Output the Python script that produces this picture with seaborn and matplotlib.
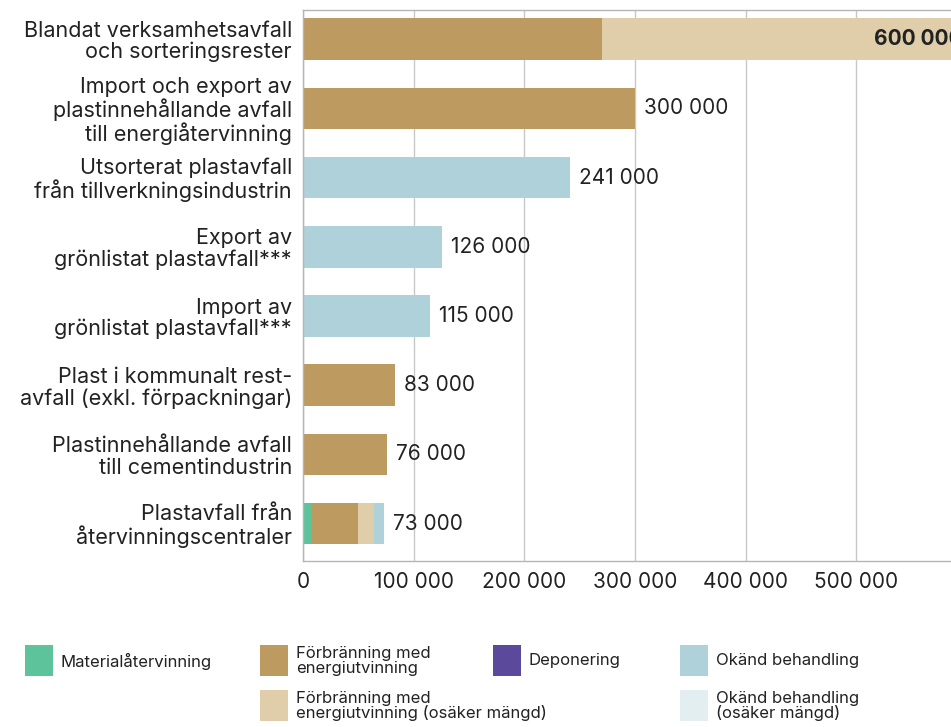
import matplotlib
matplotlib.use("Agg")
import matplotlib.pyplot as plt
from matplotlib.patches import Rectangle
import numpy as np
import pandas as pd
import seaborn as sns

# === data ===
CATEGORIES = [
    "Blandat verksamhetsavfall\noch sorteringsrester",
    "Import och export av\nplastinnehållande avfall\ntill energiåtervinning",
    "Utsorterat plastavfall\nfrån tillverkningsindustrin",
    "Export av\ngrönlistat plastavfall***",
    "Import av\ngrönlistat plastavfall***",
    "Plast i kommunalt rest-\navfall (exkl. förpackningar)",
    "Plastinnehållande avfall\ntill cementindustrin",
    "Plastavfall från\nåtervinningscentraler",
]
MATERIAL = [0, 0, 0, 0, 0, 0, 0, 7000]
FORBRANNING = [270000, 300000, 0, 0, 0, 83000, 76000, 43000]
FORBRANNING_OSAKER = [330000, 0, 0, 0, 0, 0, 0, 14000]
DEPONERING = [0, 0, 0, 0, 0, 0, 0, 0]
OKAND = [0, 0, 241000, 126000, 115000, 0, 0, 9000]
OKAND_OSAKER = [0, 0, 0, 0, 0, 0, 0, 0]
X_TICKS = [0, 100000, 200000, 300000, 400000, 500000]

SERIES = [
    ("Materialåtervinning", MATERIAL, "#5cc39b"),
    ("Förbränning med\nenergiutvinning", FORBRANNING, "#bd9a5f"),
    ("Förbränning med\nenergiutvinning (osäker mängd)", FORBRANNING_OSAKER, "#e0cda9"),
    ("Deponering", DEPONERING, "#5b4a9c"),
    ("Okänd behandling", OKAND, "#afd2da"),
    ("Okänd behandling\n(osäker mängd)", OKAND_OSAKER, "#e3eef1"),
]

FONT = ["Inter", "DejaVu Sans"]
TEXT_COLOR = "#222222"
GRID_COLOR = "#c8c8c8"
FS = 15


def fmt(v):
    return f"{v:,.0f}".replace(",", " ")


def draw():
    sns.set_style("white")
    plt.rcParams["font.family"] = FONT

    df = pd.DataFrame({"cat": CATEGORIES})
    cum = np.zeros(len(CATEGORIES))
    for name, vals, color in SERIES:
        cum = cum + np.array(vals)
        df[name] = cum.copy()

    fig = plt.figure(figsize=(9.51, 7.27), dpi=100)
    ax = fig.add_axes([303 / 951, 1 - 561 / 727, (967 - 303) / 951, (561 - 10) / 727])

    # stacked bars: draw cumulative totals from largest to smallest
    for name, vals, color in reversed(SERIES):
        sns.barplot(data=df, x=name, y="cat", order=CATEGORIES, color=color,
                    orient="h", width=0.6, ax=ax, saturation=1, zorder=2,
                    linewidth=0, edgecolor=color)

    totals = df[SERIES[-1][0]].values
    for i, t in enumerate(totals):
        if t >= 500000:
            ax.text(t - 4000, i, fmt(t), ha="right", va="center", fontsize=FS,
                    fontweight="bold", color=TEXT_COLOR)
        else:
            ax.text(t + 8000, i, fmt(t), ha="left", va="center", fontsize=FS,
                    color=TEXT_COLOR)

    ax.set_xlim(0, 600000)
    ax.set_ylim(7.54, -0.42)
    ax.set_xticks(X_TICKS)
    ax.set_xticklabels([fmt(v) for v in X_TICKS], fontsize=FS, color=TEXT_COLOR)
    ax.set_yticks(range(len(CATEGORIES)))
    ax.set_yticklabels(CATEGORIES, fontsize=15.5, color=TEXT_COLOR, linespacing=1.07)
    ax.tick_params(axis="both", length=0, pad=8)
    ax.set_xlabel("")
    ax.set_ylabel("")
    ax.grid(axis="x", color=GRID_COLOR, linewidth=1, zorder=0)
    ax.set_axisbelow(True)
    for s in ["top", "bottom", "left", "right"]:
        ax.spines[s].set_color("#b5b5b5")
        ax.spines[s].set_linewidth(1)
    ax.spines["right"].set_visible(False)

    # legend, placed manually like the reference
    legend_pos = [
        (25, 645), (260, 645), (260, 690), (493, 645), (680, 645), (680, 690),
    ]
    for (name, vals, color), (lx, ly) in zip(SERIES, legend_pos):
        fig.add_artist(Rectangle((lx / 951, 1 - (ly + 31) / 727), 28 / 951, 31 / 727,
                                 transform=fig.transFigure, color=color, lw=0))
        fig.text((lx + 36) / 951, 1 - (ly + 16) / 727, name, fontsize=12,
                 color=TEXT_COLOR, va="center", ha="left", linespacing=0.95)

    fig.savefig("out.png", dpi=100)


if __name__ == "__main__":
    draw()
